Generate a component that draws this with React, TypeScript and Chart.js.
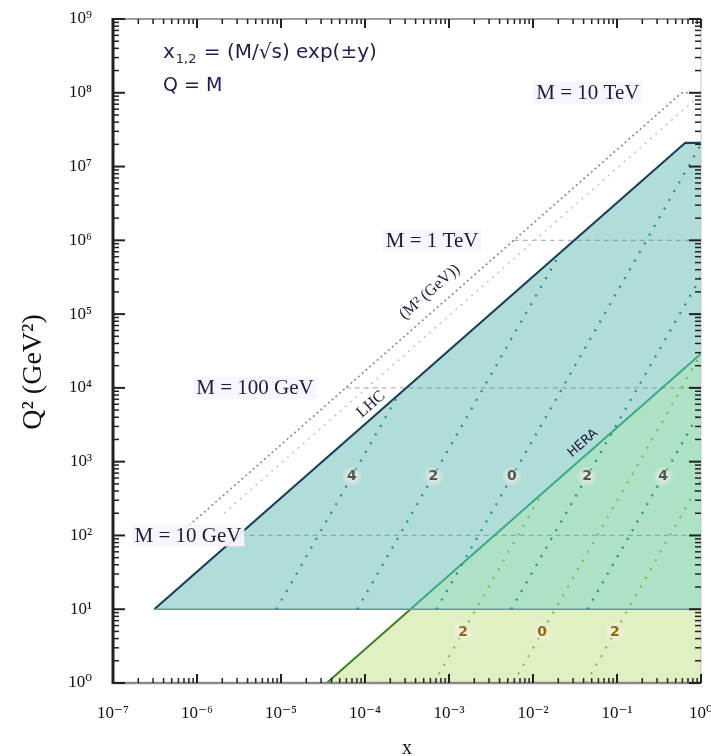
import React, { useEffect, useRef } from 'react';
import { Chart, registerables } from 'chart.js';

Chart.register(...registerables);

// ---------- axes ----------
const X_TICKS = [1e-7, 1e-6, 1e-5, 1e-4, 1e-3, 1e-2, 1e-1, 1];
const X_TICK_LABELS = ['10⁻⁷', '10⁻⁶', '10⁻⁵', '10⁻⁴', '10⁻³', '10⁻²', '10⁻¹', '10⁰'];
const Y_TICKS = [1, 1e1, 1e2, 1e3, 1e4, 1e5, 1e6, 1e7, 1e8, 1e9];
const Y_TICK_LABELS = ['10⁰', '10¹', '10²', '10³', '10⁴', '10⁵', '10⁶', '10⁷', '10⁸', '10⁹'];

// ---------- regions (x, Q²) ----------
const LHC_REGION = [
  { x: 3.1e-7, y: 10 },
  { x: 0.65, y: 2.1e7 },
  { x: 1, y: 2.1e7 },
];
const LHC_FLOOR = [
  { x: 3.1e-7, y: 10 },
  { x: 1, y: 10 },
];
const LOW_REGION = [
  { x: 3.5e-5, y: 1 },
  { x: 1, y: 2.9e4 },
];
const OVERLAP_REGION = [
  { x: 3.47e-4, y: 10 },
  { x: 1, y: 2.9e4 },
];

// ---------- kinematic limit lines ----------
const LIMIT_DARK = [
  { x: 5.9e-7, y: 100 },
  { x: 0.59, y: 1e8 },
  { x: 1, y: 1e8 },
];
const LIMIT_LIGHT = [
  { x: 2.1e-6, y: 200 },
  { x: 1, y: 9.5e7 },
];

// ---------- constant-mass lines ----------
const MASS_Q2 = [1e2, 1e4, 1e6];
const MASS_X_START = [5.9e-7, 5.9e-5, 5.9e-3];
const MASS_X_END = [1, 1, 1];

// ---------- rapidity lines ----------
const RAP_UPPER = [
  [{ x: 8.8e-6, y: 10 }, { x: 2.5e-4, y: 8.1e3 }],
  [{ x: 8.1e-5, y: 10 }, { x: 0.0214, y: 6.9e5 }],
  [{ x: 7.1e-4, y: 10 }, { x: 1, y: 2.0e7 }],
  [{ x: 5.5e-3, y: 10 }, { x: 1, y: 3.2e5 }],
  [{ x: 0.0445, y: 10 }, { x: 1, y: 5.0e3 }],
];
const RAP_LOWER = [
  [{ x: 6.6e-4, y: 1 }, { x: 0.0127, y: 367 }],
  [{ x: 5.8e-3, y: 1 }, { x: 1, y: 2.9e4 }],
  [{ x: 0.0428, y: 1 }, { x: 1, y: 550 }],
];

// ---------- labels ----------
const RAP_UPPER_TEXT = ['4', '2', '0', '2', '4'];
const RAP_UPPER_X = [7.0e-5, 6.5e-4, 5.6e-3, 0.044, 0.353];
const RAP_UPPER_Q2 = 631;
const RAP_LOWER_TEXT = ['2', '0', '2'];
const RAP_LOWER_X = [1.47e-3, 0.0128, 0.0946];
const RAP_LOWER_Q2 = 4.9;

const MASS_LABEL_TEXT = ['M = 10 GeV', 'M = 100 GeV', 'M = 1 TeV', 'M = 10 TeV'];
const MASS_LABEL_X = [7.8e-7, 4.9e-6, 6.3e-4, 0.045];
const MASS_LABEL_Q2 = [1e2, 1e4, 1e6, 1e8];

const SLANT_TEXT = ['LHC', '(M² (GeV))', 'HERA'];
const SLANT_X = [1.18e-4, 5.9e-4, 0.0394];
const SLANT_Q2 = [6.0e3, 2.0e5, 1.78e3];

const SERIF = '"Liberation Serif", "DejaVu Serif", serif';
const SANS = '"DejaVu Sans", "Liberation Sans", sans-serif';

const decorPlugin = {
  id: 'decor',
  afterDatasetsDraw(chart: any) {
    const { ctx, chartArea: a, scales } = chart;
    const xs = scales.x;
    const ys = scales.y;
    const line = (x1: number, y1: number, x2: number, y2: number) => {
      ctx.beginPath();
      ctx.moveTo(x1, y1);
      ctx.lineTo(x2, y2);
      ctx.stroke();
    };
    ctx.save();

    // frame
    ctx.strokeStyle = '#9c9c9c';
    ctx.lineWidth = 2;
    line(a.left, a.top, a.right, a.top);
    ctx.strokeStyle = '#8a8a8a';
    ctx.lineWidth = 2.5;
    line(a.left, a.bottom, a.right, a.bottom);
    ctx.strokeStyle = '#c4c4c4';
    ctx.lineWidth = 1;
    line(a.right, a.top, a.right, a.bottom);
    ctx.strokeStyle = '#222';
    ctx.lineWidth = 3;
    line(a.left, a.top - 1, a.left, a.bottom + 1);

    // ticks
    ctx.strokeStyle = '#222';
    for (let e = -7; e <= 0; e++) {
      for (let m = 1; m <= 9; m++) {
        const v = m * Math.pow(10, e);
        if (v > 1.0001) break;
        const px = xs.getPixelForValue(v);
        const len = m === 1 ? 9 : 5;
        ctx.lineWidth = m === 1 ? 2 : 1.5;
        line(px, a.bottom, px, a.bottom - len);
        line(px, a.top, px, a.top + len);
      }
    }
    for (let e = 0; e <= 9; e++) {
      for (let m = 1; m <= 9; m++) {
        const v = m * Math.pow(10, e);
        if (v > 1.0001e9) break;
        const py = ys.getPixelForValue(v);
        const len = m === 1 ? 12 : 6;
        ctx.lineWidth = m === 1 ? 2 : 1.5;
        line(a.left, py, a.left + len, py);
        line(a.right, py, a.right - len, py);
      }
    }

    // formula text
    ctx.fillStyle = '#1e1e55';
    ctx.textBaseline = 'alphabetic';
    ctx.textAlign = 'left';
    let tx = a.left + 50;
    const ty = a.top + 39;
    ctx.font = `20px ${SANS}`;
    ctx.fillText('x', tx, ty);
    tx += ctx.measureText('x').width;
    ctx.font = `13px ${SANS}`;
    ctx.fillText('1,2', tx + 1, ty + 5);
    tx += ctx.measureText('1,2').width + 2;
    ctx.font = `20px ${SANS}`;
    ctx.fillText(' = (M/√s) exp(±y)', tx, ty);
    ctx.font = `19px ${SANS}`;
    ctx.fillText('Q = M', a.left + 50, a.top + 72);

    // mass labels
    ctx.font = `21px ${SERIF}`;
    ctx.textAlign = 'center';
    ctx.textBaseline = 'middle';
    MASS_LABEL_TEXT.forEach((t, i) => {
      const cx = xs.getPixelForValue(MASS_LABEL_X[i]);
      const cy = ys.getPixelForValue(MASS_LABEL_Q2[i]);
      const w = ctx.measureText(t).width;
      ctx.fillStyle = 'rgba(246,244,255,0.93)';
      ctx.fillRect(cx - w / 2 - 3, cy - 11, w + 6, 22);
      ctx.fillStyle = '#1c1c3c';
      ctx.fillText(t, cx, cy + 1);
    });

    // rapidity labels
    const drawRap = (texts: string[], xsArr: number[], q2: number, color: string) => {
      texts.forEach((t, i) => {
        const cx = xs.getPixelForValue(xsArr[i]);
        const cy = ys.getPixelForValue(q2);
        const g = ctx.createRadialGradient(cx, cy, 1, cx, cy, 11);
        g.addColorStop(0, 'rgba(255,238,232,0.85)');
        g.addColorStop(1, 'rgba(255,238,232,0)');
        ctx.fillStyle = g;
        ctx.fillRect(cx - 12, cy - 12, 24, 24);
        ctx.fillStyle = color;
        ctx.font = `bold 14px ${SANS}`;
        ctx.fillText(t, cx, cy);
      });
    };
    drawRap(RAP_UPPER_TEXT, RAP_UPPER_X, RAP_UPPER_Q2, '#4f5656');
    drawRap(RAP_LOWER_TEXT, RAP_LOWER_X, RAP_LOWER_Q2, '#857312');

    // slanted labels
    const ang = Math.atan2(
      ys.getPixelForValue(1) - ys.getPixelForValue(10),
      xs.getPixelForValue(1e-6) - xs.getPixelForValue(1e-7)
    );
    SLANT_TEXT.forEach((t, i) => {
      const cx = xs.getPixelForValue(SLANT_X[i]);
      const cy = ys.getPixelForValue(SLANT_Q2[i]);
      ctx.save();
      ctx.translate(cx, cy);
      ctx.rotate(-ang);
      ctx.font = i === 2 ? `13px ${SANS}` : `16px ${SERIF}`;
      ctx.fillStyle = '#1a1a40';
      ctx.fillText(t, 0, 0);
      ctx.restore();
    });

    ctx.restore();
  },
};

function lineDs(data: any[], color: string, width: number, dash: number[], order: number, extra: any = {}) {
  return {
    data,
    showLine: true,
    borderColor: color,
    borderWidth: width,
    borderDash: dash,
    pointRadius: 0,
    pointHoverRadius: 0,
    fill: false,
    order,
    ...extra,
  };
}

export default function App() {
  const ref = useRef<HTMLCanvasElement>(null);

  useEffect(() => {
    if (!ref.current) return;
    const datasets: any[] = [];
    datasets.push(lineDs(LOW_REGION, '#3d7f2a', 2, [], 100, { fill: { value: 1 }, backgroundColor: '#e1f0c3' }));
    datasets.push(lineDs(LHC_REGION, '#1d3d5c', 2.2, [], 90, { fill: { value: 10 }, backgroundColor: '#b0dcd9' }));
    datasets.push(lineDs(OVERLAP_REGION, '#3aa983', 2, [], 80, { fill: { value: 10 }, backgroundColor: '#ade2c6' }));
    datasets.push(lineDs(LHC_FLOOR, '#6b9694', 1.5, [], 70));
    MASS_Q2.forEach((q, i) => {
      datasets.push(
        lineDs(
          [
            { x: MASS_X_START[i], y: q },
            { x: MASS_X_END[i], y: q },
          ],
          'rgba(105,125,135,0.55)',
          1.2,
          [5, 4],
          60
        )
      );
    });
    RAP_UPPER.forEach((d) => datasets.push(lineDs(d, '#2a8a85', 2.2, [2, 8], 50)));
    RAP_LOWER.forEach((d) => datasets.push(lineDs(d, '#76b84a', 2, [2, 8], 50)));
    datasets.push(lineDs(LIMIT_LIGHT, '#c2c2c2', 1.5, [2, 5], 40));
    datasets.push(lineDs(LIMIT_DARK, '#8a8a8a', 1.6, [2, 3], 40));

    const chart = new Chart(ref.current, {
      type: 'scatter',
      data: { datasets },
      plugins: [decorPlugin],
      options: {
        animation: false,
        responsive: true,
        maintainAspectRatio: false,
        layout: { padding: { top: 19, right: 10, left: 0, bottom: 0 } },
        plugins: { legend: { display: false }, tooltip: { enabled: false } },
        scales: {
          x: {
            type: 'logarithmic',
            min: 1e-7,
            max: 1,
            grid: { display: false },
            border: { display: false },
            afterBuildTicks: (s: any) => {
              s.ticks = X_TICKS.map((v) => ({ value: v }));
            },
            afterFit: (s: any) => {
              s.height = 73;
              s.paddingLeft = 0;
              s.paddingRight = 0;
            },
            ticks: {
              autoSkip: false,
              maxRotation: 0,
              padding: 12,
              color: '#111',
              font: { family: SERIF, size: 17 },
              callback: (_v: any, i: number) => X_TICK_LABELS[i],
            },
            title: {
              display: true,
              text: 'x',
              color: '#111',
              font: { family: SERIF, size: 20, lineHeight: 1 },
              padding: { top: 0, bottom: -3 },
            },
          },
          y: {
            type: 'logarithmic',
            min: 1,
            max: 1e9,
            grid: { display: false },
            border: { display: false },
            afterBuildTicks: (s: any) => {
              s.ticks = Y_TICKS.map((v) => ({ value: v }));
            },
            afterFit: (s: any) => {
              s.width = 113;
              s.paddingTop = 0;
              s.paddingBottom = 0;
            },
            ticks: {
              autoSkip: false,
              padding: 13,
              color: '#111',
              font: { family: SERIF, size: 17 },
              callback: (_v: any, i: number) => Y_TICK_LABELS[i],
            },
            title: {
              display: true,
              text: 'Q² (GeV²)\u2003\u2002',
              color: '#111',
              font: { family: SERIF, size: 28 },
              padding: { top: 17, bottom: 0 },
            },
          },
        },
      } as any,
    });
    return () => chart.destroy();
  }, []);

  return (
    <div style={{ position: 'fixed', left: 0, top: 0, width: 711, height: 756, background: '#fff' }}>
      <canvas ref={ref} />
    </div>
  );
}
